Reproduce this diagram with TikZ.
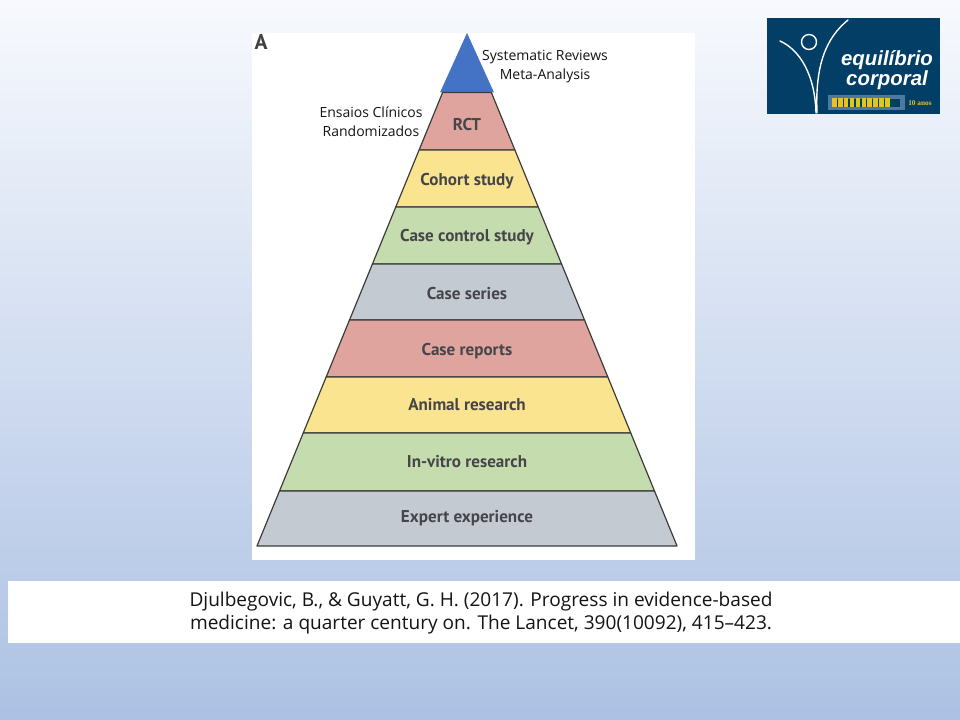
\documentclass[tikz,border=0pt]{standalone}
\usepackage{fontspec}
\setmainfont{Open Sans}
\newfontfamily\bandfont{PT Sans}
\newfontfamily\logofont{Liberation Sans}
\newfontfamily\yearfont{Liberation Serif}
\usetikzlibrary{calc}
\definecolor{bgtop}{HTML}{F7F9FD}
\definecolor{bgbot}{HTML}{ACC1E3}
\definecolor{bandred}{HTML}{E0A49E}
\definecolor{bandyel}{HTML}{FBE48F}
\definecolor{bandgrn}{HTML}{C5DDAE}
\definecolor{bandgry}{HTML}{C4CAD2}
\definecolor{bandblue}{HTML}{4472C4}
\definecolor{lineclr}{HTML}{3C3C38}
\definecolor{textclr}{HTML}{45454A}
\definecolor{logobg}{HTML}{023E66}
\definecolor{barclr}{HTML}{4B7A9E}
\definecolor{segclr}{HTML}{E3C521}
\tikzset{
  x=0.75pt,y=-0.75pt,
  bandtext/.style={font=\bandfont\bfseries\fontsize{12.8}{13}\selectfont,text=textclr,inner sep=0pt,anchor=center},
  note/.style={font=\fontsize{10.5}{14.2}\selectfont,text=black!92,align=center,inner sep=0pt},
  band/.style={draw=lineclr,line width=0.9pt,line join=round},
  logotext/.style={font=\logofont\bfseries\itshape\fontsize{15.3}{13.5}\selectfont,text=white,align=center,inner sep=0pt},
  logoline/.style={draw=white,line width=1.05pt,line cap=round},
}
\newcommand{\bandpath}[5]{% ytop, ybottom, colour, name, label y
  \pgfmathsetmacro{\ha}{0.4094*(#1-33)}
  \pgfmathsetmacro{\hb}{0.4094*(#2-33)}
  \draw[band,fill=#3] ({467-\ha},#1) -- ({467+\ha},#1) -- ({467+\hb},#2) -- ({467-\hb},#2) -- cycle;
  \node[bandtext] (#4) at (467,#5) {\csname bandlabel#4\endcsname};
}
\expandafter\def\csname bandlabelrct\endcsname{RCT}
\expandafter\def\csname bandlabelcohort\endcsname{Cohort study}
\expandafter\def\csname bandlabelcasecontrol\endcsname{Case control study}
\expandafter\def\csname bandlabelseries\endcsname{Case series}
\expandafter\def\csname bandlabelreports\endcsname{Case reports}
\expandafter\def\csname bandlabelanimal\endcsname{Animal research}
\expandafter\def\csname bandlabelvitro\endcsname{In-vitro research}
\expandafter\def\csname bandlabelexpert\endcsname{Expert experience}
\begin{document}
\begin{tikzpicture}
\useasboundingbox (0,0) rectangle (960,720);
% background
\shade[top color=bgtop,bottom color=bgbot] (0,0) rectangle (960,720);
% white panels
\fill[white!98!bgtop] (252,33) rectangle (695,560);
\fill[white] (8,581) rectangle (960,643);
% pyramid
\draw[draw=none,fill=bandblue] (467,33) -- (494,92.5) -- (440,92.5) -- cycle;
\bandpath{92.5}{150}{bandred}{rct}{124.5}
\bandpath{150}{207}{bandyel}{cohort}{181}
\bandpath{207}{264}{bandgrn}{casecontrol}{237}
\bandpath{264}{320}{bandgry}{series}{293.5}
\bandpath{320}{377}{bandred}{reports}{351}
\bandpath{377}{433}{bandyel}{animal}{405}
\bandpath{433}{491}{bandgrn}{vitro}{461.5}
\bandpath{491}{546}{bandgry}{expert}{518}
% letter
\node[font=\bandfont\bfseries\fontsize{16}{16}\selectfont,text=black!75,inner sep=0pt] (panelA) at (261,42) {A};
% notes
\node[note] (sr) at (545,66.5) {Systematic Reviews\\Meta-Analysis};
\node[note] (ec) at (371,122) {Ensaios Clínicos\\Randomizados};
\node[font=\fontsize{14.3}{16.6}\selectfont,text=black!92,align=center,inner sep=0pt] (ref) at (481,613) {Djulbegovic, B., \& Guyatt, G. H. (2017). Progress in evidence-based\\medicine: a quarter century on. The Lancet, 390(10092), 415–423.};
% logo
\fill[logobg] (767,18) rectangle (940,114);
\draw[logoline] (780,41) .. controls (800,50) and (815,75) .. (816,113);
\draw[logoline] (848,20) .. controls (826,38) and (815,65) .. (817,113);
\draw[logoline] (809,42) circle[radius=7.5];
\node[logotext] (logoname) at (887,70) {equilíbrio\\corporal};
\fill[barclr] (828,95) rectangle (905,110);
\fill[logobg] (833,99) rectangle (900,107);
\foreach \i in {0,...,9} {\fill[segclr] ({832+\i*5.9},98) rectangle ({836.6+\i*5.9},107);}
\node[font=\yearfont\bfseries\fontsize{5.5}{5.5}\selectfont,text=segclr,inner sep=0pt] (years) at (920,103) {10 anos};
\end{tikzpicture}
\end{document}
